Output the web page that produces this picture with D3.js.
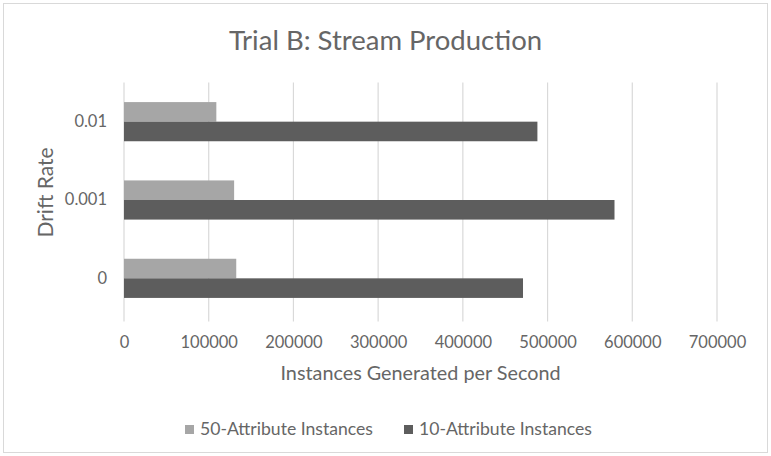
<!DOCTYPE html>
<html>
<head>
<meta charset="utf-8">
<script src="https://cdn.jsdelivr.net/npm/d3@7"></script>
<style>
  body { margin: 0; background: #fff; }
  svg { display: block; font-family: Lato, "Open Sans", sans-serif; }
</style>
</head>
<body>
<svg width="771" height="456"></svg>
<script>
// drift rates, top to bottom as drawn
let categories = ["0.01", "0.001", "0"]
let seriesNames = ["50-Attribute Instances", "10-Attribute Instances"]
let attr50 = [109000, 130000, 132500]
let attr10 = [488000, 579000, 471000]
let xTicks = [0, 100000, 200000, 300000, 400000, 500000, 600000, 700000]

let colors = ["#a6a6a6", "#5d5d5d"]
let textColor = "#666"

let data = categories.map((c, i) => ({ cat: c, values: [attr50[i], attr10[i]] }))

var svg = d3.select("svg"),
    width = 771,
    height = 456

// chart frame
svg.append("rect")
    .attr("x", 3.5).attr("y", 3.5)
    .attr("width", width - 7).attr("height", height - 7)
    .attr("fill", "#fff")
    .attr("stroke", "#d9d9d9")

var plotLeft = 124, plotRight = 717, plotTop = 82.5, plotBottom = 317.5

var x = d3.scaleLinear().domain([0, 700000]).range([plotLeft, plotRight])
var y = d3.scaleBand().domain(categories).range([plotTop, plotBottom])
    .paddingInner(0.5).paddingOuter(0.25)
var ys = d3.scaleBand().domain([0, 1]).range([0, y.bandwidth()])

svg.append("text")
    .attr("x", width / 2)
    .attr("y", 50)
    .attr("text-anchor", "middle")
    .attr("font-size", "27.5px")
    .attr("fill", textColor)
    .text("Trial B: Stream Production")

// vertical gridlines
svg.append("g")
    .selectAll("line")
    .data(xTicks)
    .enter().append("line")
    .attr("x1", d => x(d)).attr("x2", d => x(d))
    .attr("y1", plotTop).attr("y2", plotBottom + 4)
    .attr("stroke", "#d9d9d9")
    .attr("stroke-width", 1.2)

// x axis labels
var xa = svg.append("g")
    .attr("transform", "translate(0," + (plotBottom + 4) + ")")
    .call(d3.axisBottom(x).tickValues(xTicks).tickSize(0).tickPadding(15).tickFormat(d => d))
xa.select(".domain").remove()
xa.selectAll("text")
    .attr("font-family", "Lato, sans-serif")
    .attr("font-size", "16.5px")
    .attr("fill", textColor)

// y axis labels
var ya = svg.append("g")
    .attr("transform", "translate(" + (plotLeft - 17) + ",0)")
    .call(d3.axisLeft(y).tickSize(0).tickPadding(0))
ya.select(".domain").remove()
ya.selectAll("text")
    .attr("font-family", "Lato, sans-serif")
    .attr("font-size", "16.5px")
    .attr("fill", textColor)

// bars
var groups = svg.append("g")
    .selectAll("g")
    .data(data)
    .enter().append("g")
    .attr("transform", d => "translate(0," + y(d.cat) + ")")

groups.selectAll("rect")
    .data(d => d.values)
    .enter().append("rect")
    .attr("x", x(0))
    .attr("y", (d, i) => ys(i))
    .attr("width", d => x(d) - x(0))
    .attr("height", ys.bandwidth())
    .attr("fill", (d, i) => colors[i])

// axis titles
svg.append("text")
    .attr("x", (plotLeft + plotRight) / 2)
    .attr("y", 380)
    .attr("text-anchor", "middle")
    .attr("font-size", "19.8px")
    .attr("fill", textColor)
    .text("Instances Generated per Second")

svg.append("text")
    .attr("transform", "translate(53,192.5) rotate(-90)")
    .attr("text-anchor", "middle")
    .attr("font-size", "21px")
    .attr("fill", textColor)
    .text("Drift Rate")

// legend
var legendX = [185, 404]
var lg = svg.append("g")
    .selectAll("g")
    .data(seriesNames)
    .enter().append("g")
    .attr("transform", (d, i) => "translate(" + legendX[i] + ",425)")
lg.append("rect")
    .attr("width", 9).attr("height", 9)
    .attr("fill", (d, i) => colors[i])
lg.append("text")
    .attr("x", 15)
    .attr("y", 10)
    .attr("font-size", "17.6px")
    .attr("fill", textColor)
    .text(d => d)
</script>
</body>
</html>
